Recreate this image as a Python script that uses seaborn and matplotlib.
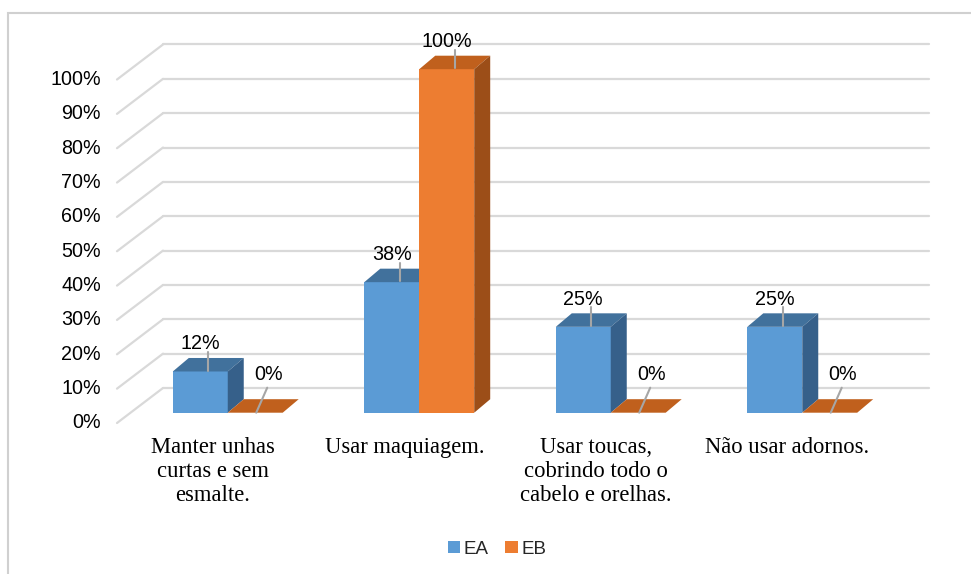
import matplotlib
matplotlib.use("Agg")
import matplotlib.pyplot as plt
import seaborn as sns
import pandas as pd
from matplotlib.patches import Polygon, Rectangle, Patch
from matplotlib.lines import Line2D

# ---------------- data ----------------
categories = ["Manter unhas\ncurtas e sem\nesmalte.",
              "Usar maquiagem.",
              "Usar toucas,\ncobrindo todo o\ncabelo e orelhas.",
              "Não usar adornos."]
series_names = ["EA", "EB"]
ea_values = [12, 38, 25, 25]
eb_values = [0, 100, 0, 0]
y_ticks = [0, 10, 20, 30, 40, 50, 60, 70, 80, 90, 100]

# ---------------- styles ----------------
W, H = 971, 574
FRONT = {"EA": "#5B9BD5", "EB": "#ED7D31"}
TOP = {"EA": "#41719C", "EB": "#C0601D"}
SIDE = {"EA": "#36608A", "EB": "#9C4E18"}
GRID = "#D9D9D9"
LEADER = "#A6A6A6"
SANS = ["Liberation Sans", "DejaVu Sans"]
SERIF = ["Liberation Serif", "DejaVu Serif"]

# pixel geometry of the front plane
PX0, CATW = 117.0, 191.5      # left edge of front floor, px per category
PY0, PXPCT = 423.0, 3.435     # y px of 0% on the front plane, px per 1%


def to_x(px):
    return (px - PX0) / CATW - 0.5


def to_y(py):
    return (PY0 - py) / PXPCT


def dx(px):
    return px / CATW


def dy(px):
    return px / PXPCT


DEPTH = (dx(46), dy(35))         # full depth of the chart box
BAR_OFF = (dx(15), dy(10.3))     # where the bars' front faces sit in depth
BAR_D = (dx(16), dy(13.5))       # depth of each bar

df = pd.DataFrame({
    "cat": categories * 2,
    "val": ea_values + eb_values,
    "serie": [series_names[0]] * 4 + [series_names[1]] * 4,
})

sns.set_theme(style="white")
fig = plt.figure(figsize=(W / 100, H / 100), dpi=100)
ax = fig.add_axes([0, 0, 1, 1])

sns.barplot(data=df, x="cat", y="val", hue="serie", order=categories,
            hue_order=series_names, palette=[FRONT["EA"], FRONT["EB"]],
            width=0.574, saturation=1, ax=ax, legend=False, linewidth=0,
            errorbar=None)

ax.set_xlim(to_x(0), to_x(W))
ax.set_ylim(to_y(H), to_y(0))
ax.axis("off")

# ---------------- walls: gridlines ----------------
x_front_l = to_x(PX0)
x_front_r = to_x(PX0 + 4 * CATW)
for t in y_ticks:
    # left wall diagonal
    ax.add_line(Line2D([x_front_l, x_front_l + DEPTH[0]], [t, t + DEPTH[1]],
                       color=GRID, lw=1.6, zorder=0.5))
    # back wall horizontal
    ax.add_line(Line2D([x_front_l + DEPTH[0], x_front_r + DEPTH[0]],
                       [t + DEPTH[1], t + DEPTH[1]],
                       color=GRID, lw=1.6, zorder=0.5))
    ax.text(to_x(101), t, f"{t}%", ha="right", va="center", fontsize=14.2,
            family=SANS, color="#000000")

# ---------------- 3D bars ----------------
for si, (name, cont) in enumerate(zip(series_names, ax.containers)):
    z = 2 + si
    for bar in cont:
        bar.set_x(bar.get_x() + BAR_OFF[0])
        bar.set_y(bar.get_y() + BAR_OFF[1])
        bar.set_zorder(z)
        x0, y0 = bar.get_x(), bar.get_y()
        w, h = bar.get_width(), bar.get_height()
        top = [(x0, y0 + h), (x0 + w, y0 + h),
               (x0 + w + BAR_D[0], y0 + h + BAR_D[1]),
               (x0 + BAR_D[0], y0 + h + BAR_D[1])]
        ax.add_patch(Polygon(top, closed=True, facecolor=TOP[name],
                             edgecolor="none", zorder=z))
        if h > 0:
            side = [(x0 + w, y0), (x0 + w, y0 + h),
                    (x0 + w + BAR_D[0], y0 + h + BAR_D[1]),
                    (x0 + w + BAR_D[0], y0 + BAR_D[1])]
            ax.add_patch(Polygon(side, closed=True, facecolor=SIDE[name],
                                 edgecolor="none", zorder=z))

        # data label + leader line
        cx = x0 + w / 2
        if h > 0:
            ytop_mid = y0 + h + BAR_D[1] * 0.5
            ylab = y0 + h + BAR_D[1] + dy(14)
            ax.add_line(Line2D([cx + BAR_D[0] * 0.5, cx + BAR_D[0] * 0.5],
                               [ytop_mid - dy(6), ylab - dy(8)],
                               color=LEADER, lw=1.5, zorder=6))
            ax.text(cx, ylab, f"{h:.0f}%", ha="center", va="center",
                    fontsize=14.2, family=SANS, color="#000000", zorder=7)
        else:
            ylab = y0 + dy(38)
            ax.add_line(Line2D([cx + dx(1), cx + dx(12)],
                               [y0, y0 + dy(25)],
                               color=LEADER, lw=1.5, zorder=6))
            ax.text(cx + dx(13), ylab, "0%", ha="center", va="center",
                    fontsize=14.2, family=SANS, color="#000000", zorder=7)

# ---------------- category labels ----------------
for i, c in enumerate(categories):
    ax.text(i, to_y(437), c, ha="center", va="top", fontsize=16.3,
            family=SERIF, color="#000000", linespacing=1.2)

# ---------------- legend ----------------
handles = [Patch(facecolor=FRONT[n], edgecolor="none") for n in series_names]
ax.legend(handles, series_names, loc="center", ncol=2,
          bbox_to_anchor=(497 / W, 1 - 549 / H), frameon=False,
          handlelength=0.65, handleheight=0.65, handletextpad=0.2,
          columnspacing=0.9, prop={"family": SANS, "size": 13.5})

# ---------------- chart border ----------------
fig.patches.append(Rectangle((8 / W, -0.1), 1.2, (H - 13) / H + 0.1,
                             transform=fig.transFigure, fill=False,
                             edgecolor="#D0D0D0", lw=1.5))

fig.savefig("out.png", dpi=100, facecolor="white")
